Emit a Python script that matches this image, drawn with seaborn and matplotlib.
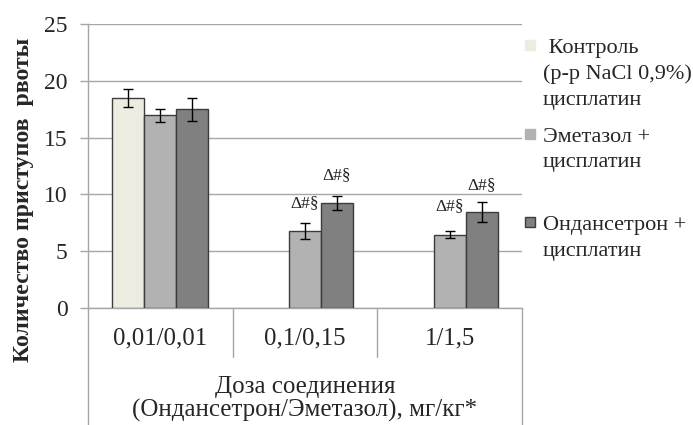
import numpy as np
import pandas as pd
import matplotlib
matplotlib.use("Agg")
import matplotlib.pyplot as plt
from matplotlib.patches import Rectangle
from matplotlib.lines import Line2D
import seaborn as sns

# ---- data ----
categories = ["0,01/0,01", "0,1/0,15", "1/1,5"]
series = ["Контроль", "Эметазол", "Ондансетрон"]
legend_labels = [" Контроль\n(р-р NaCl 0,9%)\nцисплатин",
                 "Эметазол +\nцисплатин",
                 "Ондансетрон +\nцисплатин"]
control_mean = [18.45, np.nan, np.nan]
control_err = [0.8, np.nan, np.nan]
emetazol_mean = [16.95, 6.75, 6.45]
emetazol_err = [0.6, 0.7, 0.3]
ondansetron_mean = [17.5, 9.25, 8.45]
ondansetron_err = [1.0, 0.65, 0.9]
emetazol_marks = ["", "Δ#§", "Δ#§"]
ondansetron_marks = ["", "Δ#§", "Δ#§"]
y_ticks = [0, 5, 10, 15, 20, 25]

# ---- style ----
colors = ["#EEECE1", "#B2B2B2", "#808080"]
edge = "#3C3C3C"
grid_c = "#A6A6A6"
# gap (points) between the top of an error bar and the centre of its mark
mark_offsets = {"Эметазол": [0, 14.4, 18.5], "Ондансетрон": [0, 14.9, 12.2]}

sns.set_style("white")
plt.rcParams["font.family"] = ["Liberation Serif", "DejaVu Serif"]

rows = []
for name, means, errs in [(series[0], control_mean, control_err),
                          (series[1], emetazol_mean, emetazol_err),
                          (series[2], ondansetron_mean, ondansetron_err)]:
    for cat, m, e in zip(categories, means, errs):
        rows.append({"dose": cat, "group": name, "mean": m, "err": e})
df = pd.DataFrame(rows)
df_plot = df.dropna(subset=["mean"])

W, H = 693, 425
fig = plt.figure(figsize=(W / 100, H / 100), dpi=100)
ax = fig.add_axes([88 / W, (H - 308) / H, (522 - 88) / W, (308 - 24) / H])

sns.barplot(data=df_plot, x="dose", y="mean", hue="group",
            order=categories, hue_order=series, palette=colors,
            width=0.663, gap=0, errorbar=None, edgecolor=edge,
            linewidth=1.0, saturation=1, legend=False, ax=ax, zorder=3)

# error bars and significance marks at the centres of the drawn bars
mark_lists = {"Эметазол": emetazol_marks, "Ондансетрон": ondansetron_marks}
for cont, name in zip(ax.containers, series):
    sub = df_plot[df_plot["group"] == name]
    for bar in cont:
        cx = bar.get_x() + bar.get_width() / 2
        ci = int(round(cx))
        row = sub[sub["dose"] == categories[ci]].iloc[0]
        ax.errorbar(cx, row["mean"], yerr=row["err"], fmt="none",
                    ecolor="black", elinewidth=1.0, capsize=3.6,
                    capthick=1.0, zorder=4)
        marks = mark_lists.get(name)
        if marks and marks[ci]:
            ax.annotate(marks[ci], (cx, row["mean"] + row["err"]),
                        xytext=(0, mark_offsets[name][ci]),
                        textcoords="offset points", ha="center",
                        va="center", fontsize=12.5, color="#222222")

ax.set_xlim(-0.5, 2.5)
ax.set_ylim(0, 25)
ax.set_yticks(y_ticks)
ax.set_yticklabels([str(t) for t in y_ticks])
ax.yaxis.grid(True, color=grid_c, linewidth=1.0, zorder=0)
ax.set_axisbelow(True)
for s in ["top", "right"]:
    ax.spines[s].set_visible(False)
for s in ["left", "bottom"]:
    ax.spines[s].set_color(grid_c)
    ax.spines[s].set_linewidth(1.0)
ax.tick_params(axis="y", length=5.8, width=1.0, color=grid_c, pad=9,
               labelsize=17, left=True)
ax.tick_params(axis="x", length=0, pad=14, labelsize=17.8)
ax.set_xlabel("")

# category box below the plot
tr = ax.get_xaxis_transform()
bottom_frac = -(H - 308) / (308 - 24)
div_frac = -(357 - 308) / (308 - 24)
for xv, ylo in [(-0.5, bottom_frac), (2.5, bottom_frac),
                (0.5, div_frac), (1.5, div_frac)]:
    ax.add_line(Line2D([xv, xv], [0, ylo], transform=tr, color=grid_c,
                       lw=1.0, clip_on=False))

ax.set_ylabel("Количество приступов  рвоты", fontsize=17.2,
              fontweight="bold")
ax.yaxis.set_label_coords(-0.125, 0.382)

fig.text(305 / W, 1 - 399 / H,
         "Доза соединения\n(Ондансетрон/Эметазол), мг/кг*",
         ha="center", va="center", fontsize=18, linespacing=1.0)

# legend: one swatch per series, label lines set on fixed baselines
leg_baselines = [53, 141.5, 230]
line_step = 25.8
for lab, col, base, bordered in zip(legend_labels, colors, leg_baselines,
                                    [False, False, True]):
    fig.patches.append(Rectangle((525 / W, 1 - (base - 3) / H), 10 / W,
                                 10 / H, transform=fig.transFigure,
                                 facecolor=col,
                                 edgecolor=edge if bordered else col,
                                 linewidth=1.0))
    for k, line in enumerate(lab.split("\n")):
        fig.text(543 / W, 1 - (base + k * line_step) / H, line,
                 ha="left", va="baseline", fontsize=16)

fig.savefig("out.png", dpi=100)
